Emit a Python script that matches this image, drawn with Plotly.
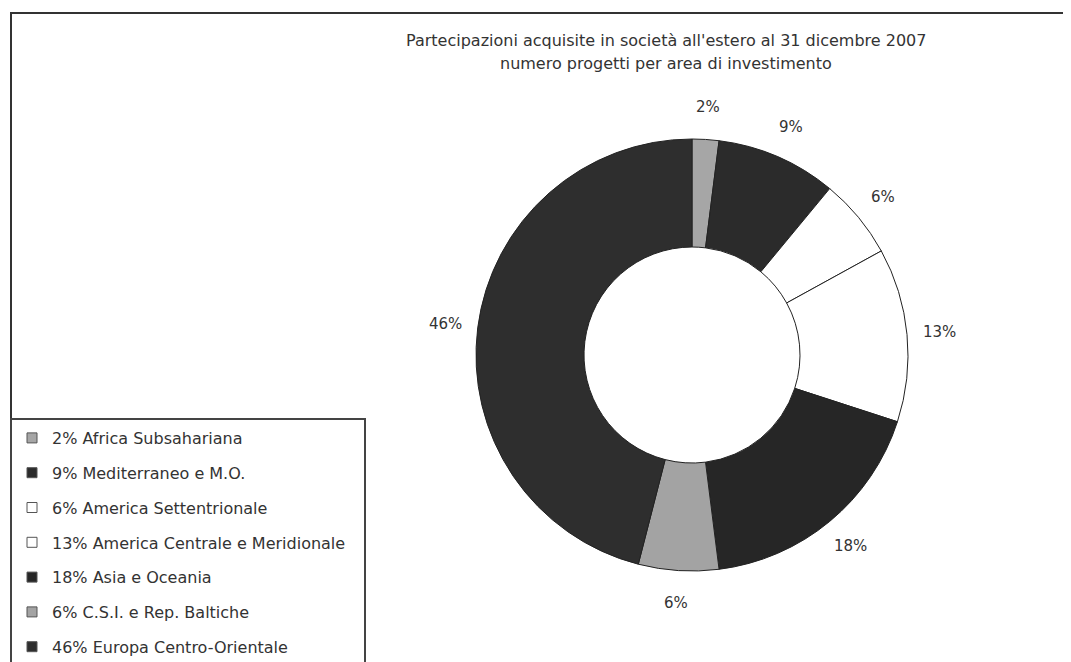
import math
import plotly.graph_objects as go

categories = ["Africa Subsahariana", "Mediterraneo e M.O.", "America Settentrionale",
              "America Centrale e Meridionale", "Asia e Oceania",
              "C.S.I. e Rep. Baltiche", "Europa Centro-Orientale"]
shares = [2, 9, 6, 13, 18, 6, 46]
colors = ["#a6a6a6", "#2b2b2b", "#ffffff", "#ffffff", "#262626", "#a3a3a3", "#2e2e2e"]

title_lines = ["Partecipazioni acquisite in società all'estero al 31 dicembre 2007",
               "numero progetti per area di investimento"]

W, H = 1071, 662
OFF = 8  # page body margin: page pixel -> figure pixel
FONT = "DejaVu Sans, Verdana, sans-serif"
TXT = "#333333"


def fx(px):
    return (px - OFF) / W


def fy(py):
    return 1 - (py - OFF) / H


# pie geometry (page pixels)
CX, CY, R = 692, 355, 216
LABEL_R = 1.15 * R

fig = go.Figure()

fig.add_trace(go.Pie(
    labels=categories,
    values=shares,
    textinfo="none",
    sort=False,
    direction="clockwise",
    rotation=0,
    hole=0.5,
    marker=dict(colors=colors, line=dict(color="#222222", width=1)),
    domain=dict(x=[fx(CX - R), fx(CX + R)], y=[fy(CY + R), fy(CY - R)]),
    showlegend=False,
    hovertemplate="%{label}: %{value}%<extra></extra>",
))

# legend entries (one group each so their spacing can be set)
for i, (c, v, col) in enumerate(zip(categories, shares, colors)):
    fig.add_trace(go.Scatter(
        x=[None], y=[None], mode="markers",
        name=f"{v}% {c}",
        legendgroup=f"g{i}",
        marker=dict(symbol="square", size=10, color=col,
                    line=dict(color="#555555", width=1)),
        showlegend=True,
    ))

# percentage labels around the ring, at each slice's mid-angle
total = sum(shares)
cum = 0
annotations = []
for v in shares:
    mid = (cum + v / 2) / total * 2 * math.pi
    cum += v
    px = CX + LABEL_R * math.sin(mid)
    py = CY - LABEL_R * math.cos(mid)
    annotations.append(dict(
        x=fx(px), y=fy(py), xref="paper", yref="paper",
        text=f"{v}%", showarrow=False, xanchor="center", yanchor="middle",
        font=dict(family=FONT, size=15, color=TXT)))

for line, ypix in zip(title_lines, [40, 63]):
    annotations.append(dict(
        x=fx(666), y=fy(ypix), xref="paper", yref="paper",
        text=line, showarrow=False,
        xanchor="center", yanchor="middle",
        font=dict(family=FONT, size=16, color=TXT)))

fig.update_layout(
    width=W, height=H,
    margin=dict(l=0, r=0, t=0, b=0, autoexpand=False),
    paper_bgcolor="white",
    plot_bgcolor="white",
    font=dict(family=FONT, color=TXT),
    xaxis=dict(visible=False),
    yaxis=dict(visible=False),
    showlegend=True,
    legend=dict(x=fx(12), y=fy(421), xanchor="left", yanchor="top",
                bgcolor="rgba(0,0,0,0)", borderwidth=0,
                font=dict(family=FONT, size=16, color=TXT),
                tracegroupgap=11,
                traceorder="grouped", itemclick=False, itemdoubleclick=False),
    annotations=annotations,
    shapes=[
        dict(type="rect", xref="paper", yref="paper",
             x0=fx(11), x1=1.02, y0=-0.02, y1=fy(13),
             line=dict(color="#333333", width=2), fillcolor="rgba(0,0,0,0)",
             layer="below"),
        dict(type="rect", xref="paper", yref="paper",
             x0=fx(11), x1=fx(365), y0=-0.02, y1=fy(419),
             line=dict(color="#444444", width=2), fillcolor="white",
             layer="below"),
    ],
)

fig.write_html("out.html")
